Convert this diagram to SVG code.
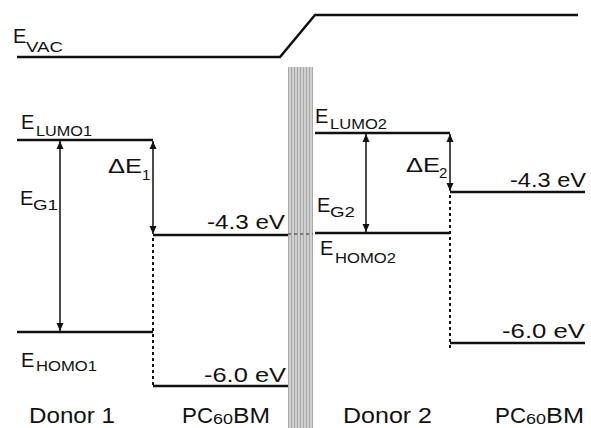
<svg xmlns="http://www.w3.org/2000/svg" width="591" height="428" viewBox="0 0 591 428">
<style>
text{font-family:"Liberation Sans",Arial,sans-serif;fill:#111}
.lvl{stroke:#111;stroke-width:2.5;fill:none}
.arr{stroke:#111;stroke-width:1.5;fill:none}
.dot{stroke:#111;stroke-width:2;stroke-dasharray:3 3;fill:none}
.big{font-size:22px}
.ev{font-size:20px}
.e{font-size:20px}
.sub{font-size:15px}
.sub60{font-size:14px}
</style>
<defs>
<marker id="ah" viewBox="0 0 8 8" refX="8" refY="4" markerWidth="8" markerHeight="8" markerUnits="userSpaceOnUse" orient="auto-start-reverse">
<path d="M0,0.5 L8,4 L0,7.5 z" fill="#111"/>
</marker>
<pattern id="stripes" width="3" height="3" patternUnits="userSpaceOnUse">
<rect width="3" height="3" fill="#cfcfcf"/>
<rect width="1" height="3" fill="#a9a9a9"/>
</pattern>
</defs>
<rect width="591" height="428" fill="#fff"/>

<g id="interface">
<rect x="288" y="67" width="25" height="361" fill="url(#stripes)"/>
<line x1="288" y1="234" x2="313" y2="234" stroke="#777" stroke-width="2" stroke-dasharray="3 3"/>
</g>

<g id="vacuum">
<path class="lvl" d="M17,57 H280 L315,15 H578" stroke-width="2"/>
<text class="e" x="13" y="43" font-size="21">E</text>
<text x="26" y="52" font-size="14" textLength="37" lengthAdjust="spacingAndGlyphs">VAC</text>
</g>

<g id="donor1">
<line class="lvl" x1="17" y1="140" x2="153" y2="140"/>
<line class="lvl" x1="17" y1="332" x2="153" y2="332"/>
<text class="e" x="21" y="129">E</text>
<text class="sub" x="36" y="136" textLength="56" lengthAdjust="spacingAndGlyphs">LUMO1</text>
<text class="e" x="21" y="367">E</text>
<text class="sub" x="36" y="371" textLength="61" lengthAdjust="spacingAndGlyphs">HOMO1</text>
<text class="e" x="20" y="205">E</text>
<text class="sub" x="33" y="210" textLength="25" lengthAdjust="spacingAndGlyphs">G1</text>
<text class="big" x="29" y="423" textLength="86" lengthAdjust="spacingAndGlyphs">Donor 1</text>
</g>

<g id="pcbm1">
<line class="lvl" x1="153" y1="235" x2="288" y2="235"/>
<line class="lvl" x1="153" y1="386" x2="288" y2="386"/>
<text class="ev" x="207" y="229" textLength="78" lengthAdjust="spacingAndGlyphs">-4.3 eV</text>
<text class="ev" x="204" y="382" textLength="82" lengthAdjust="spacingAndGlyphs">-6.0 eV</text>
<text class="big" x="182" y="423" textLength="31" lengthAdjust="spacingAndGlyphs">PC</text>
<text class="sub60" x="213" y="424" textLength="20" lengthAdjust="spacingAndGlyphs">60</text>
<text class="big" x="233" y="423" textLength="37" lengthAdjust="spacingAndGlyphs">BM</text>
</g>

<g id="donor2">
<line class="lvl" x1="315" y1="133" x2="450" y2="133"/>
<line class="lvl" x1="315" y1="233" x2="450" y2="233"/>
<text class="e" x="315" y="123">E</text>
<text class="sub" x="330" y="129" textLength="57" lengthAdjust="spacingAndGlyphs">LUMO2</text>
<text class="e" x="320" y="255">E</text>
<text class="sub" x="335" y="263" textLength="61" lengthAdjust="spacingAndGlyphs">HOMO2</text>
<text class="e" x="317" y="212">E</text>
<text class="sub" x="330" y="217" textLength="25" lengthAdjust="spacingAndGlyphs">G2</text>
<text class="big" x="343" y="423" textLength="89" lengthAdjust="spacingAndGlyphs">Donor 2</text>
</g>

<g id="pcbm2">
<line class="lvl" x1="450" y1="192" x2="585" y2="192"/>
<line class="lvl" x1="450" y1="343" x2="585" y2="343"/>
<text class="ev" x="510" y="187" textLength="76" lengthAdjust="spacingAndGlyphs">-4.3 eV</text>
<text class="ev" x="502" y="338" textLength="83" lengthAdjust="spacingAndGlyphs">-6.0 eV</text>
<text class="big" x="495" y="423" textLength="31" lengthAdjust="spacingAndGlyphs">PC</text>
<text class="sub60" x="526" y="424" textLength="20" lengthAdjust="spacingAndGlyphs">60</text>
<text class="big" x="546" y="423" textLength="38" lengthAdjust="spacingAndGlyphs">BM</text>
</g>

<g id="offset1">
<text class="e" x="108" y="173" textLength="34" lengthAdjust="spacingAndGlyphs">ΔE</text>
<text class="sub" x="142" y="180">1</text>
</g>

<g id="offset2">
<text class="e" x="406" y="172" textLength="34" lengthAdjust="spacingAndGlyphs">ΔE</text>
<text class="sub" x="439" y="178">2</text>
</g>

<g id="connectors">
<line class="arr" x1="60" y1="141" x2="60" y2="331" marker-start="url(#ah)" marker-end="url(#ah)"/>
<line class="arr" x1="153" y1="141" x2="153" y2="234" marker-start="url(#ah)" marker-end="url(#ah)"/>
<line class="arr" x1="366" y1="134" x2="366" y2="232" marker-start="url(#ah)" marker-end="url(#ah)"/>
<line class="arr" x1="450" y1="134" x2="450" y2="191" marker-start="url(#ah)" marker-end="url(#ah)"/>
<line class="dot" x1="153" y1="238" x2="153" y2="386"/>
<line class="dot" x1="450" y1="195" x2="450" y2="350"/>
</g>
</svg>
